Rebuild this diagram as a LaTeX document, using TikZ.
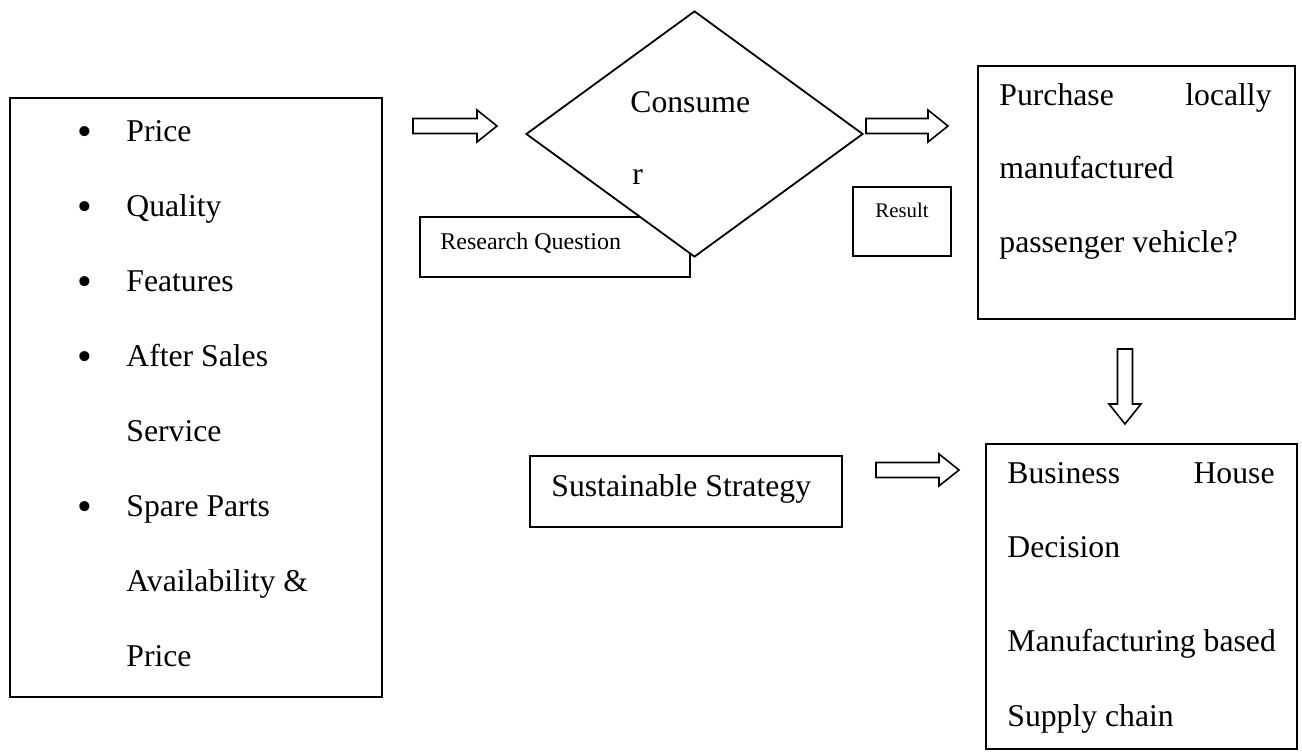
\documentclass[tikz,border=0pt]{standalone}
\usepackage{fontspec}
\setmainfont{Liberation Serif}
\usetikzlibrary{shapes.geometric,fit}
\tikzset{%
    box/.style={draw, line width=0.9pt, inner sep=0pt},
    txt/.style={anchor=base west, inner sep=0pt, font=\fontsize{15.85}{19}\selectfont},
    txtr/.style={txt, anchor=base east},
    small/.style={anchor=base west, inner sep=0pt, font=\fontsize{12}{14}\selectfont},
    tiny/.style={anchor=base, inner sep=0pt, font=\fontsize{10.4}{12}\selectfont},
    dot/.style={anchor=base, inner sep=0pt, font=\fontsize{21}{24}\selectfont},
    blockarrow/.pic={%
        \draw[line width=0.8pt, miter limit=20] (0,-7.5) -- (#1-20,-7.5) -- (#1-20,-16) -- (#1,0) -- (#1-20,16) -- (#1-20,7.5) -- (0,7.5) -- cycle;
    }
}
\begin{document}
\begin{tikzpicture}[x=0.5pt, y=-0.5pt]
    \useasboundingbox (0,0) rectangle (1302,753);
%-----------------------------------------------
    \node[box, fit={(10,98) (382,697)}] (factors) {};
    \foreach \b/\t [count=\i] in {1/Price, 1/Quality, 1/Features, 1/After Sales, 0/Service, 1/Spare Parts, 0/Availability \&, 0/Price} {
        \node[txt] (item\i) at (126,{142+75*(\i-1)}) {\t};
        \ifnum\b=1 \node[dot] (dot\i) at (85,{146+75*(\i-1)}) {\textbullet}; \fi
    }
%-----------------------------------------------
    \node[box, fit={(420,217) (690,277)}] (question) {};
    \node[small] (questiontxt) at (440,250) {Research Question};
    \node[box, diamond, fill=white, minimum width=168.5pt, minimum height=123pt] (consumer) at (694.5,134) {};
    \node[txt] (consA) at (630,113) {Consume};
    \node[txt] (consB) at (632,185) {r};
%-----------------------------------------------
    \node[box, fit={(853,187) (951,256)}] (result) {};
    \node[tiny] (resulttxt) at (902,218) {Result};
%-----------------------------------------------
    \node[box, fit={(978,66) (1295,319)}] (purchase) {};
    \node[txt] (purA) at (999,106) {Purchase};
    \node[txtr] (purB) at (1272,106) {locally};
    \node[txt] (purC) at (999,179) {manufactured};
    \node[txt] (purD) at (999,253) {passenger vehicle?};
%-----------------------------------------------
    \node[box, fit={(530,456) (842,527)}] (strategy) {};
    \node[txt] (strategytxt) at (551,497) {Sustainable Strategy};
%-----------------------------------------------
    \node[box, fit={(986,444) (1297,749)}] (business) {};
    \node[txt] (busA) at (1007,484) {Business};
    \node[txtr] (busB) at (1275,484) {House};
    \node[txt] (busC) at (1007,558) {Decision};
    \node[txt] (busD) at (1007,652) {Manufacturing based};
    \node[txt] (busE) at (1007,726) {Supply chain};
%-----------------------------------------------
    \pic (toconsumer) at (413,126) {blockarrow=84};
    \pic (topurchase) at (866,126) {blockarrow=82};
    \pic[rotate=-90] (tobusiness) at (1125,349) {blockarrow=75};
    \pic (fromstrategy) at (876,470) {blockarrow=83};
\end{tikzpicture}
\end{document}
